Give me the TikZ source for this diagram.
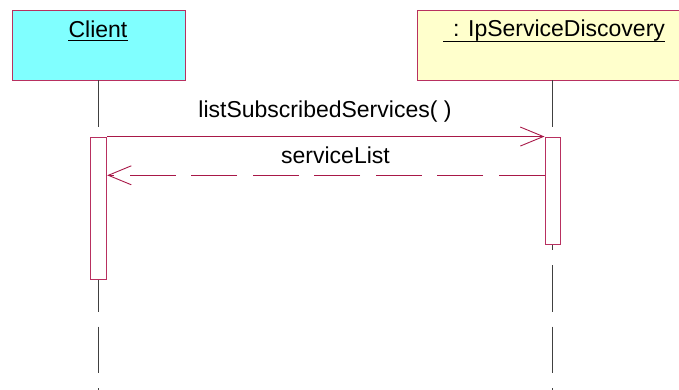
\documentclass[tikz,border=0pt]{standalone}
\usepackage{fontspec}
\setmainfont{Liberation Sans}
\usetikzlibrary{arrows.meta}
\definecolor{boxline}{HTML}{B83060}
\definecolor{msgline}{HTML}{A81848}
\definecolor{clientfill}{HTML}{80FFFF}
\definecolor{serverfill}{HTML}{FFFFCC}
\definecolor{lifegray}{HTML}{404040}
\tikzset{
  objbox/.style={draw=boxline, line width=0.9pt, inner sep=0pt},
  actbox/.style={draw=boxline, line width=0.9pt, fill=white, inner sep=0pt, minimum width=16pt},
  lifeline/.style={draw=lifegray, line width=0.9pt, dash pattern=on 46.5pt off 15pt},
  lbl/.style={inner sep=0pt, font=\fontsize{23}{26}\selectfont, anchor=base},
  ul/.style={draw=black, line width=1.1pt},
  msg/.style={draw=msgline, line width=0.9pt, -{Straight Barb[length=23pt,width=19pt,line width=0.9pt]}},
  ret/.style={msg, dash pattern=on 46pt off 15.5pt}
}
\begin{document}
\begin{tikzpicture}[x=1pt,y=-1pt]
\useasboundingbox (0,0) rectangle (679,390);
\begin{scope}
\clip (0,0) rectangle (679,390);
% object boxes
\node[objbox, fill=clientfill, minimum width=173pt, minimum height=69.5pt] (client) at (98.5,45.3) {};
\node[objbox, fill=serverfill, minimum width=270pt, minimum height=69.5pt] (server) at (552.3,45.3) {};
% lifelines
\coordinate (clientend) at (98,392);
\coordinate (serverend) at (552.3,392);
\draw[lifeline] (client.south -| clientend) -- (clientend);
\draw[lifeline] (server.south -| serverend) -- (serverend);
% activation boxes
\node[actbox, minimum height=142pt] (act1) at (98.7,208) {};
\node[actbox, minimum width=15.7pt, minimum height=107pt] (act2) at (552.8,190.5) {};
\end{scope}
% labels
\node[lbl] (clientlabel) at (98,37.3) {Client};
\draw[ul] ([yshift=-3.6pt]clientlabel.base west) -- ([yshift=-3.6pt]clientlabel.base east);
\node[lbl, anchor=base west] (serverlabel) at (453,36.3) {: IpServiceDiscovery};
\draw[ul] ([xshift=-10pt,yshift=-5pt]serverlabel.base west) -- ([yshift=-5pt]serverlabel.base east);
% messages
\draw[msg] (act1.north east) -- (act2.north west);
\node[lbl] (m1) at (325,117.7) {listSubscribedServices( )};
\coordinate (retY) at (0,175.3);
\draw[ret] (act2.west |- retY) -- (act1.east |- retY);
\node[lbl] (m2) at (335.5,163.3) {serviceList};
\end{tikzpicture}
\end{document}
